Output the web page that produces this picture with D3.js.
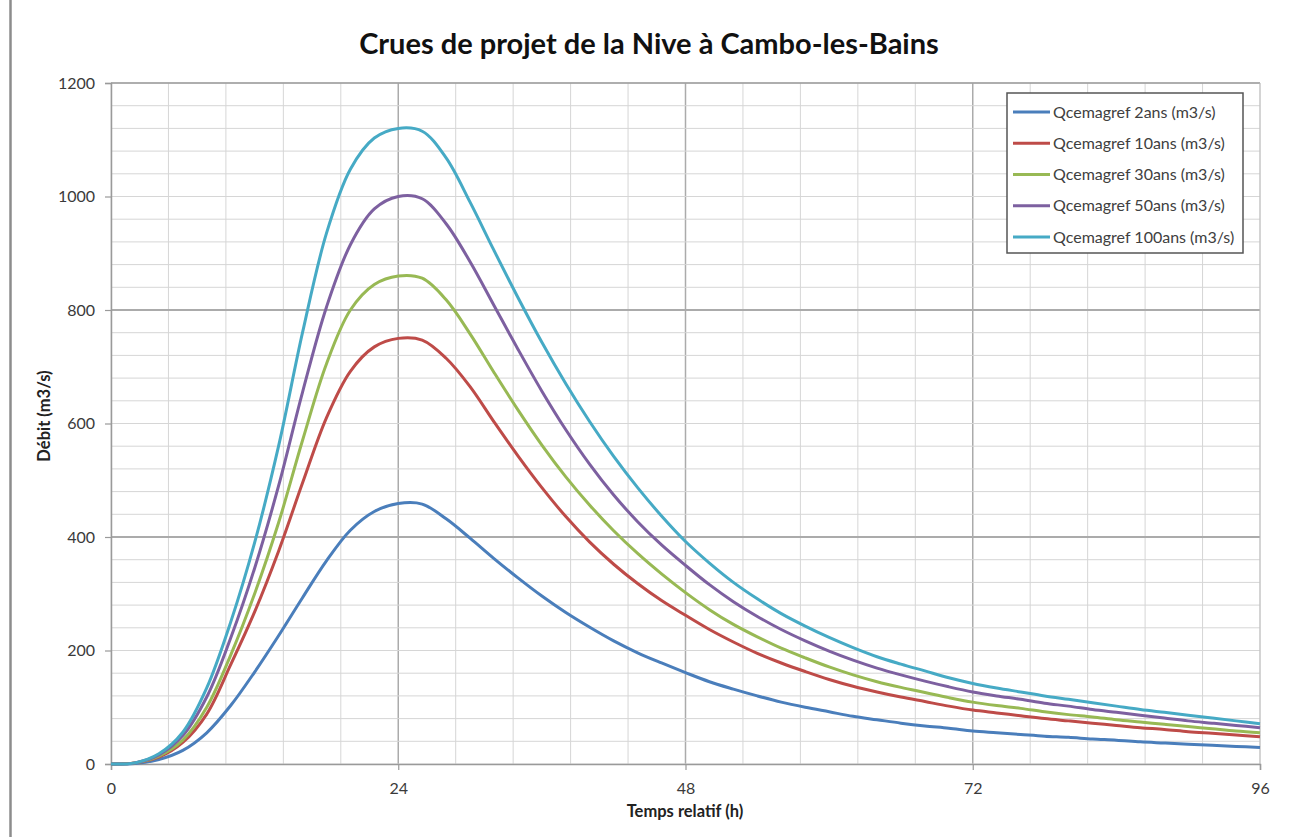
<!DOCTYPE html>
<html>
<head>
<meta charset="utf-8">
<script src="https://cdn.jsdelivr.net/npm/d3@7"></script>
<style>
  html, body { margin: 0; padding: 0; background: #fff; }
  svg { display: block; font-family: Lato, "Open Sans", sans-serif; }
</style>
</head>
<body>
<svg id="chart" width="1291" height="837"></svg>
<script>
// ---------- DATA ----------
const title = "Crues de projet de la Nive à Cambo-les-Bains";
const xTitle = "Temps relatif (h)";
const yTitle = "Débit (m3/s)";
const hours = [0,2,4,6,8,10,12,14,16,18,20,22,24,26,28,30,32,34,36,38,40,42,44,46,48,
               50,52,54,56,58,60,62,64,66,68,70,72,74,76,78,80,82,84,86,88,90,92,94,96];
const seriesNames = ["Qcemagref 2ans (m3/s)", "Qcemagref 10ans (m3/s)", "Qcemagref 30ans (m3/s)",
                     "Qcemagref 50ans (m3/s)", "Qcemagref 100ans (m3/s)"];
const q2 = [0,1,8,24,55,103,162,226,293,358,412,445,459,458,432,398,362,328,296,267,241,217,196,178,161,
            145,132,120,109,100,92,84,78,72,67,63,58,55,52,49,47,44,42,39,37,35,33,31,29];
const q10 = [0,2,12,38,88,175,268,375,495,610,692,735,750,747,715,665,603,543,487,436,391,352,318,288,262,
             237,215,195,178,163,149,137,127,118,110,102,95,90,85,80,76,72,68,64,61,57,54,51,48];
const q30 = [0,2,14,42,100,192,300,425,570,705,800,845,860,856,818,758,690,624,562,506,456,411,371,335,302,
             272,246,224,204,187,171,157,145,135,126,117,109,103,98,92,87,83,78,74,70,66,62,58,55];
const q50 = [0,2,16,50,118,222,345,490,655,805,915,978,1000,996,952,885,808,731,657,589,528,474,427,386,350,
             316,286,260,237,217,199,183,169,157,146,136,127,120,114,107,102,96,91,86,81,76,72,68,64];
const q100 = [0,2,18,56,134,250,390,560,760,935,1048,1103,1120,1115,1068,990,905,822,743,670,603,542,487,437,392,
              354,320,291,265,243,223,205,189,176,164,152,142,134,127,120,114,108,102,96,91,86,81,76,71];
const seriesColors = ["#4A7EBB", "#BE4B48", "#98B954", "#7D60A0", "#46AAC5"];
const xTicks = [0, 24, 48, 72, 96];
const yTicks = [0, 200, 400, 600, 800, 1000, 1200];

// ---------- LAYOUT ----------
const svg = d3.select("#chart");
const pL = 111, pR = 1260, pT = 83, pB = 764;
const x = d3.scaleLinear().domain([0, 96]).range([pL, pR]);
const y = d3.scaleLinear().domain([0, 1200]).range([pB, pT]);

// left page border
svg.append("line").attr("x1", 10.5).attr("x2", 10.5).attr("y1", 0).attr("y2", 837)
  .attr("stroke", "#8c8c8c").attr("stroke-width", 2.5);

// grid
const isMajX = d => d > 0 && d < 96 && Math.abs(d / 24 - Math.round(d / 24)) < 1e-6;
const g = svg.append("g");
const xMinor = d3.range(0, 96.001, 4.8);
const yMinor = d3.range(0, 1200.001, 40);
g.selectAll("line.vx").data(xMinor).join("line")
  .attr("x1", d => x(d)).attr("x2", d => x(d)).attr("y1", pT).attr("y2", pB)
  .attr("stroke", d => isMajX(d) ? "#ababab" : "#d6d6d6")
  .attr("stroke-width", d => isMajX(d) ? 1.5 : 1);
g.selectAll("line.hy").data(yMinor).join("line")
  .attr("x1", pL).attr("x2", pR).attr("y1", d => y(d)).attr("y2", d => y(d))
  .attr("stroke", d => (d === 400 || d === 800) ? "#ababab" : "#d6d6d6")
  .attr("stroke-width", d => (d === 400 || d === 800) ? 2 : 1);

// plot frame (top/right) lines
svg.append("line").attr("x1", pL).attr("x2", pR).attr("y1", pT).attr("y2", pT)
  .attr("stroke", "#9a9a9a").attr("stroke-width", 1.5);
svg.append("line").attr("x1", pR).attr("x2", pR).attr("y1", pT).attr("y2", pB)
  .attr("stroke", "#bdbdbd").attr("stroke-width", 1);

// axes
const yAxis = d3.axisLeft(y).tickValues(yTicks).tickSize(6).tickPadding(10).tickFormat(d3.format("d"));
const xAxis = d3.axisBottom(x).tickValues(xTicks).tickSize(6).tickPadding(13).tickFormat(d3.format("d"));
const ya = svg.append("g").attr("transform", `translate(${pL},0)`).call(yAxis);
const xa = svg.append("g").attr("transform", `translate(0,${pB})`).call(xAxis);
[ya, xa].forEach(a => {
  a.select(".domain").attr("stroke", "#9a9a9a").attr("stroke-width", 1.5);
  a.selectAll(".tick line").attr("stroke", "#9a9a9a").attr("stroke-width", 1.2);
  a.selectAll(".tick text").attr("fill", "#3a3a3a").attr("font-size", 16)
    .attr("font-family", "Lato, 'Open Sans', sans-serif");
});

// series lines
const allSeries = [q2, q10, q30, q50, q100];
const line = d3.line().x((d, i) => x(hours[i])).y(d => y(d)).curve(d3.curveCatmullRom.alpha(0.5));
svg.append("g").selectAll("path").data(allSeries).join("path")
  .attr("d", d => line(d))
  .attr("fill", "none")
  .attr("stroke", (d, i) => seriesColors[i])
  .attr("stroke-width", 3)
  .attr("stroke-linejoin", "round");

// title
svg.append("text").attr("x", 649).attr("y", 54).attr("text-anchor", "middle")
  .attr("font-size", 29).attr("font-weight", "bold").attr("fill", "#111").text(title);

// axis titles
svg.append("text").attr("x", 685).attr("y", 817).attr("text-anchor", "middle")
  .attr("font-size", 16.5).attr("font-weight", "bold").attr("fill", "#222").text(xTitle);
svg.append("text").attr("transform", "translate(50,416) rotate(-90)").attr("text-anchor", "middle")
  .attr("font-size", 16.5).attr("font-weight", "bold").attr("fill", "#222").text(yTitle);

// legend
const lg = svg.append("g");
lg.append("rect").attr("x", 1007).attr("y", 93).attr("width", 236).attr("height", 160)
  .attr("fill", "#fff").attr("stroke", "#555").attr("stroke-width", 1.5);
const ly = d3.scalePoint().domain(seriesNames).range([112, 237]);
const items = lg.selectAll("g.item").data(seriesNames).join("g")
  .attr("transform", d => `translate(0,${ly(d)})`);
items.append("line").attr("x1", 1013).attr("x2", 1050).attr("y1", 0).attr("y2", 0)
  .attr("stroke", (d, i) => seriesColors[i]).attr("stroke-width", 3);
items.append("text").attr("x", 1053).attr("y", 5.5).attr("font-size", 16).attr("fill", "#404040").text(d => d);
</script>
</body>
</html>
